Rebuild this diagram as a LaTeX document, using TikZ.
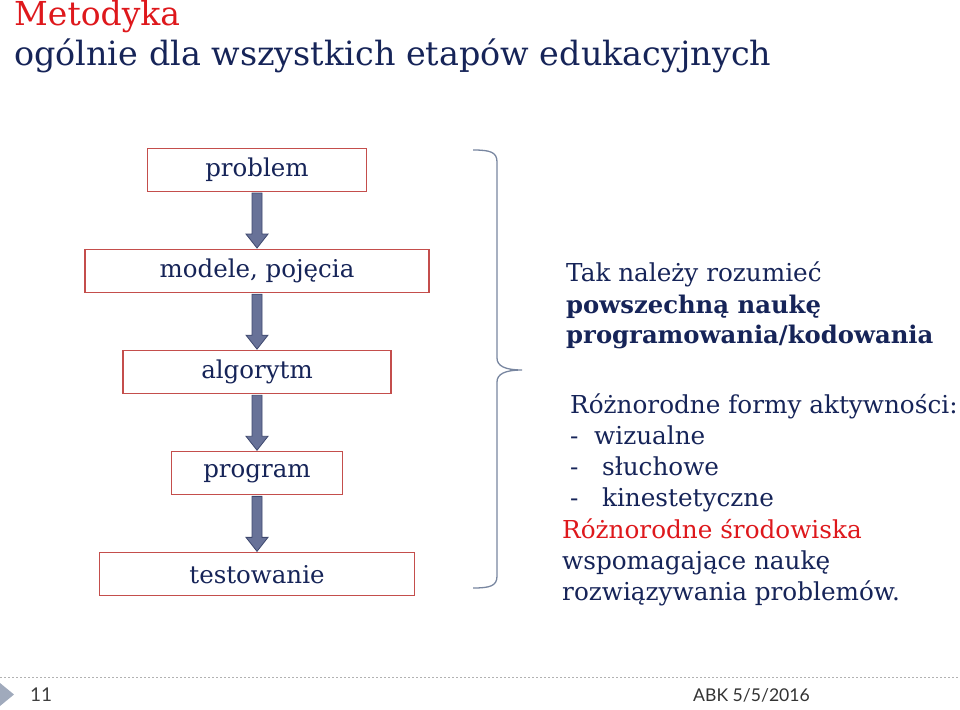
\documentclass[tikz,border=0pt]{standalone}
\usepackage{fontspec}
\setmainfont{DejaVu Serif}
\newfontfamily\footfont{Lato}
\usepackage{tikz}
\usetikzlibrary{positioning,calc}

\definecolor{navy}{RGB}{22,36,88}
\definecolor{slidered}{RGB}{222,24,28}
\definecolor{boxred}{RGB}{196,78,76}
\definecolor{arrowfill}{RGB}{104,114,152}
\definecolor{arrowline}{RGB}{62,72,110}
\definecolor{bracecol}{RGB}{120,134,160}

\begin{document}
\begin{tikzpicture}[x=1pt,y=-1pt,node distance=57pt,
    stage/.style={draw=boxred,line width=1.1pt,fill=white,minimum height=43pt,
                  inner sep=0pt,text=navy,font=\fontsize{24.5}{28}\selectfont},
    blockarrow/.style={draw=arrowline,fill=arrowfill,line width=0.8pt,
        to path={let \p1=(\tikztostart.south), \p2=(\tikztotarget.north) in
          (\x1-5pt,\y1-1pt) -- (\x1-5pt,\y2+15pt) -- (\x1-11pt,\y2+15pt) -- (\x1,\y2+1pt)
          -- (\x1+11pt,\y2+15pt) -- (\x1+5pt,\y2+15pt) -- (\x1+5pt,\y1-1pt) -- cycle}},
    line/.style={anchor=base west,inner sep=0pt,text=navy,font=\fontsize{24.7}{31}\selectfont}]

  \useasboundingbox (0,0) rectangle (960,709);

  % title
  \node[anchor=base west,inner sep=0pt,text=slidered,font=\fontsize{33}{38}\selectfont]
      (title) at (14,26) {Metodyka};
  \node[anchor=base west,inner sep=0pt,text=navy,font=\fontsize{33.4}{36}\selectfont]
      (subtitle) at (14,65) {ogólnie dla wszystkich etapów edukacyjnych};

  % flow of stages
  \node[stage,minimum width=219pt] (problem) at (257,170) {problem};
  \node[stage,minimum width=344pt] (modele) [below=of problem] {modele, pojęcia};
  \node[stage,minimum width=268pt] (algorytm) [below=of modele] {algorytm};
  \node[stage,minimum width=171pt] (program) [below=of algorytm] {program};
  \node[stage,minimum width=315pt] (testowanie) [below=of program] {testowanie};

\path (problem) edge[blockarrow] (modele)
      (modele) edge[blockarrow] (algorytm)
      (algorytm) edge[blockarrow] (program)
      (program) edge[blockarrow] (testowanie);

  % brace
  \draw[bracecol,line width=1.3pt]
      (473,150) .. controls (490,150) and (497,152) .. (497,162) -- (497,358)
      .. controls (497,366) and (505,370) .. (522,370)
      .. controls (505,370) and (497,374) .. (497,382) -- (497,576)
      .. controls (497,586) and (490,588) .. (473,588);

  % text on the right
  \node[line] (tak) at (566,281) {Tak należy rozumieć};
  \node[line,font=\fontsize{24.3}{31}\selectfont\bfseries] (powsz) at (566,313) {powszechną naukę};
  \node[line,font=\fontsize{24.3}{31}\selectfont\bfseries] (kodow) at (566,343) {programowania/kodowania};

  \node[line] (formy) at (570,413) {Różnorodne formy aktywności:};
  \node[line] (wiz) at (570,444) {-\ \ wizualne};
  \node[line] (sluch) at (570,475) {-\ \ \ słuchowe};
  \node[line] (kin) at (570,506) {-\ \ \ kinestetyczne};
  \node[line,text=slidered] (srod) at (562,538) {Różnorodne środowiska};
  \node[line] (wspom) at (562,569) {wspomagające naukę};
  \node[line] (rozw) at (562,600) {rozwiązywania problemów.};

  % footer
  \draw[gray!60,line width=0.8pt,dash pattern=on 2pt off 2pt] (0,677) -- (960,677);
  \fill[bracecol!70] (0,683) -- (14,694.5) -- (0,706) -- cycle;
  \node[anchor=west,inner sep=0pt,text=black!75,font=\footfont\fontsize{19}{22}\selectfont]
      (pagenum) at (30,695) {11};
  \node[anchor=west,inner sep=0pt,text=black!80,font=\footfont\fontsize{17.6}{20}\selectfont]
      (datum) at (693,695) {ABK 5/5/2016};
\end{tikzpicture}
\end{document}
